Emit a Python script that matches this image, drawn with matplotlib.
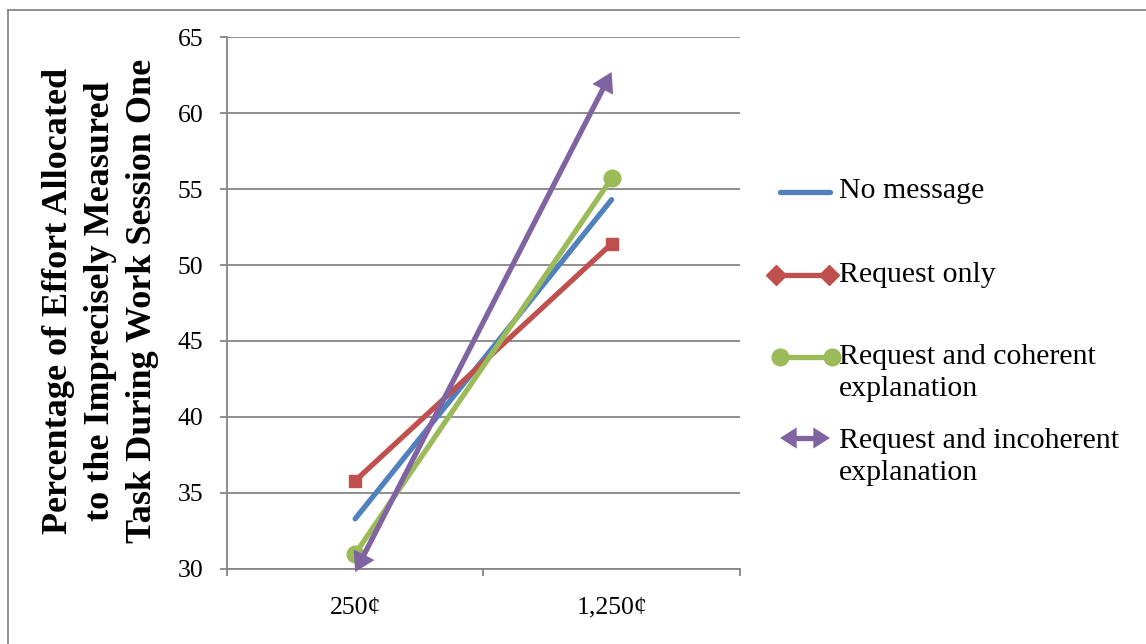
import matplotlib
matplotlib.use("Agg")
import matplotlib.pyplot as plt
from matplotlib.lines import Line2D

# effort share (%) at each piece-rate level
categories = ["250\u00a2", "1,250\u00a2"]
no_message = [33.3, 54.3]
request_only = [35.8, 51.4]
coherent = [31.0, 55.7]
incoherent = [29.8, 62.7]

series_names = ["No message", "Request only",
                "Request and coherent\nexplanation",
                "Request and incoherent\nexplanation"]

BLUE = "#4F81BD"
RED = "#C0504D"
GREEN = "#9BBB59"
PURPLE = "#8064A2"
GRID = "#868686"

plt.rcParams["font.family"] = ["Liberation Serif", "DejaVu Serif"]

fig = plt.figure(figsize=(11.46, 6.44), dpi=100)
ax = fig.add_axes([0.198, 0.1165, 0.4476, 0.826])

x = list(range(len(categories)))
lw = 3.8
ax.plot(x, no_message, color=BLUE, lw=lw, solid_capstyle="round", zorder=3)
ax.plot(x, request_only, color=RED, lw=lw, marker="s", ms=9, zorder=3)
ax.plot(x, coherent, color=GREEN, lw=lw, marker="o", ms=12, zorder=3)

# last series: shaft stops at the arrow heads, heads point at the values
ax.annotate("", xy=(x[1], incoherent[1]), xytext=(x[0], incoherent[0]),
            annotation_clip=False,
            arrowprops=dict(arrowstyle="-", lw=lw, color=PURPLE, shrinkA=9, shrinkB=9,
                            capstyle="butt", clip_on=False), zorder=4)
head = dict(arrowstyle="-|>,head_length=0.7,head_width=0.42", mutation_scale=20,
            lw=0, color=PURPLE, shrinkA=0, shrinkB=0, clip_on=False)
for i, j in [(0, 1), (1, 0)]:
    tail = (x[i] + 0.2 * (x[j] - x[i]), incoherent[i] + 0.2 * (incoherent[j] - incoherent[i]))
    ax.annotate("", xy=(x[i], incoherent[i]), xytext=tail, annotation_clip=False,
                arrowprops=head, zorder=5)

ax.set_xlim(-0.5, 1.5)
ax.set_ylim(30, 65)
ax.set_yticks(range(30, 66, 5))
ax.grid(axis="y", color=GRID, lw=1.3)
ax.set_axisbelow(True)

ax.set_xticks([-0.5, 0.5, 1.5])
ax.set_xticklabels([])
ax.set_xticks(x, minor=True)
ax.set_xticklabels(categories, minor=True)
ax.tick_params(axis="x", which="minor", length=0, pad=20, labelsize=18.5)
ax.tick_params(axis="x", which="major", length=5, width=1.3, color=GRID, direction="out")
ax.tick_params(axis="y", length=5, width=1.3, color=GRID, pad=12, labelsize=18.5)

for side in ["top", "right"]:
    ax.spines[side].set_visible(False)
for side in ["left", "bottom"]:
    ax.spines[side].set_color(GRID)
    ax.spines[side].set_linewidth(1.3)

fig.text(0.0875, 0.5326, "Percentage of Effort Allocated\nto the Imprecisely Measured\nTask During Work Session One",
         rotation=90, ha="center", va="center", fontsize=26, fontweight="bold",
         linespacing=1.36)

# hand-built legend on the right
def fx(px):
    return px / 1146

def fy(py):
    return 1 - py / 644

fig.add_artist(Line2D([fx(780), fx(830)], [fy(192), fy(192)], color=BLUE, lw=lw,
                      solid_capstyle="round"))
fig.add_artist(Line2D([fx(776), fx(829)], [fy(275), fy(275)], color=RED, lw=lw,
                      marker="D", ms=10))
fig.add_artist(Line2D([fx(780), fx(832)], [fy(357), fy(357)], color=GREEN, lw=lw,
                      marker="o", ms=12))
fig.add_artist(Line2D([fx(792), fx(818)], [fy(438), fy(438)], color=PURPLE, lw=lw))
for xs, xe in [(fx(800), fx(780)), (fx(810), fx(830))]:
    ax.annotate("", xy=(xe, fy(438)), xytext=(xs, fy(438)), xycoords="figure fraction",
                textcoords="figure fraction", annotation_clip=False,
                arrowprops=dict(arrowstyle="-|>,head_length=0.6,head_width=0.38",
                                mutation_scale=20, lw=0, color=PURPLE,
                                shrinkA=0, shrinkB=0))

label_y = [191, 275, 373, 457]
for name, py in zip(series_names, label_y):
    fig.text(fx(839), fy(py), name, ha="left", va="center", fontsize=21.5,
             linespacing=1.33)

# thin frame along the top and left edges
fig.add_artist(Line2D([fx(8), 1], [fy(10), fy(10)], color=GRID, lw=1.3))
fig.add_artist(Line2D([fx(8), fx(8)], [fy(10), 0], color=GRID, lw=1.3))

fig.savefig("out.png", dpi=100)
